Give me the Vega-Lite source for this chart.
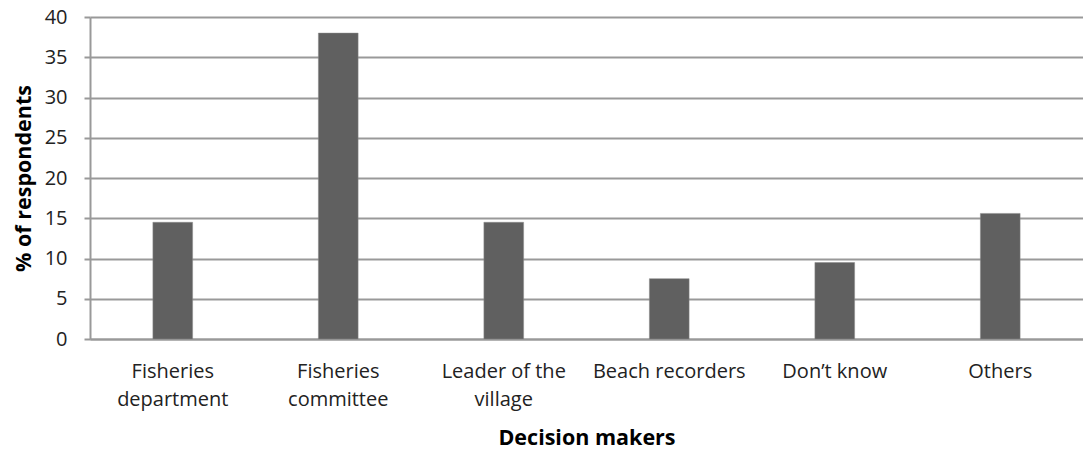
{
  "$schema": "https://vega.github.io/schema/vega-lite/v6.json",
  "autosize": "none",
  "width": 993,
  "height": 322,
  "padding": {"left": 90, "top": 17, "right": 0, "bottom": 111},
  "background": "white",
  "config": {"view": {"stroke": null}, "font": "Open Sans"},
  "data": {"values": [
    {"maker": "Fisheries|department", "pct": 14.5},
    {"maker": "Fisheries|committee", "pct": 38.0},
    {"maker": "Leader of the|village", "pct": 14.5},
    {"maker": "Beach recorders", "pct": 7.5},
    {"maker": "Don’t know", "pct": 9.5},
    {"maker": "Others", "pct": 15.6}
  ]},
  "mark": {"type": "bar", "color": "#606060", "stroke": "#8a8a8a", "strokeWidth": 0.5},
  "encoding": {
    "x": {
      "field": "maker", "type": "nominal", "sort": null,
      "scale": {"paddingInner": 0.76, "paddingOuter": 0.38},
      "axis": {
        "title": "Decision makers",
        "titleFont": "Open Sans", "titleFontSize": 21.5, "titleFontWeight": "bold", "titleColor": "#000",
        "titlePadding": 18,
        "labelExpr": "split(datum.label, '|')",
        "labelAngle": 0, "labelFont": "Open Sans", "labelFontSize": 20, "labelColor": "#222",
        "labelLineHeight": 28, "labelPadding": 22,
        "ticks": false, "domain": true, "domainColor": "#999", "domainWidth": 2,
        "grid": false
      }
    },
    "y": {
      "field": "pct", "type": "quantitative",
      "scale": {"domain": [0, 40]},
      "axis": {
        "title": "% of respondents",
        "titleFont": "Open Sans", "titleFontSize": 21.5, "titleFontWeight": "bold", "titleColor": "#000",
        "titlePadding": 9,
        "values": [0, 5, 10, 15, 20, 25, 30, 35, 40],
        "labelFont": "Open Sans", "labelFontSize": 20, "labelColor": "#222", "labelPadding": 17,
        "tickSize": 6, "tickColor": "#999", "tickWidth": 2,
        "domain": true, "domainColor": "#999", "domainWidth": 2,
        "grid": true, "gridColor": "#999", "gridWidth": 2
      }
    }
  }
}
